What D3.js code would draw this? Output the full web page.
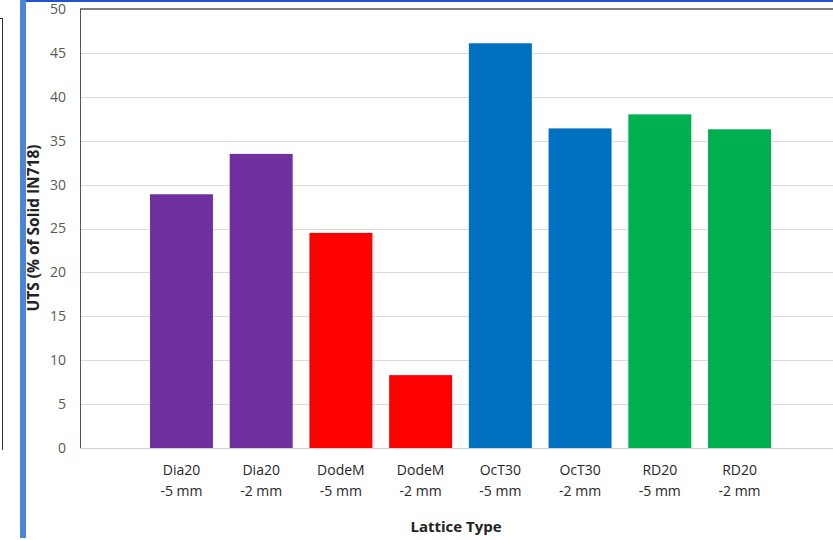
<!DOCTYPE html>
<html>
<head>
<meta charset="utf-8">
<script src="https://cdn.jsdelivr.net/npm/d3@7/dist/d3.min.js"></script>
<style>
  html, body { margin: 0; padding: 0; background: #fff; }
  svg { display: block; font-family: "Open Sans", "Liberation Sans", sans-serif; }
</style>
</head>
<body>
<svg id="chart" width="833" height="540"></svg>
<script>
// Lattice specimens: name, offset, UTS as % of solid IN718
const latticeNames = ["Dia20", "Dia20", "DodeM", "DodeM", "OcT30", "OcT30", "RD20", "RD20"];
const offsets = ["-5 mm", "-2 mm", "-5 mm", "-2 mm", "-5 mm", "-2 mm", "-5 mm", "-2 mm"];
const utsValues = [28.9, 33.5, 24.5, 8.3, 46.1, 36.4, 38.0, 36.3];
const familyColors = { Dia20: "#7030A0", DodeM: "#FF0000", OcT30: "#0070C0", RD20: "#00B050" };
const yTicks = [0, 5, 10, 15, 20, 25, 30, 35, 40, 45, 50];

const svg = d3.select("#chart");
const W = 833, H = 540;

const plot = { left: 80, top: 9, bottom: 448 };
const ids = d3.range(utsValues.length);

const x = d3.scaleBand().domain(ids).range([141.6, 779.4]).paddingInner(0.21).paddingOuter(0.105);
const y = d3.scaleLinear().domain([0, 50]).range([plot.bottom, plot.top]);

// page decoration: blue rule on the left, thin blue line on top, neighbouring frame edge
svg.append("rect").attr("x", 20).attr("y", 0).attr("width", 6).attr("height", 538).attr("fill", "#4a85d6");
svg.append("rect").attr("x", 26).attr("y", 0).attr("width", W - 26).attr("height", 2).attr("fill", "#2350d0");
svg.append("line").attr("x1", 0).attr("x2", 3).attr("y1", 18.5).attr("y2", 18.5).attr("stroke", "#333").attr("stroke-width", 1);
svg.append("line").attr("x1", 2.5).attr("x2", 2.5).attr("y1", 18).attr("y2", 450).attr("stroke", "#333").attr("stroke-width", 1);

// gridlines
svg.append("g")
  .selectAll("line")
  .data(yTicks.filter(t => t > 0 && t < 50))
  .join("line")
  .attr("x1", plot.left).attr("x2", W)
  .attr("y1", d => Math.round(y(d)) + 0.5).attr("y2", d => Math.round(y(d)) + 0.5)
  .attr("stroke", "#dcdcdc").attr("stroke-width", 1);

// baseline
svg.append("line")
  .attr("x1", plot.left).attr("x2", W)
  .attr("y1", Math.round(y(0)) + 0.5).attr("y2", Math.round(y(0)) + 0.5)
  .attr("stroke", "#d0d0d0").attr("stroke-width", 1);

// plot frame (top and left)
svg.append("line")
  .attr("x1", plot.left).attr("x2", W)
  .attr("y1", y(50)).attr("y2", y(50))
  .attr("stroke", "#555").attr("stroke-width", 1.5);
svg.append("line")
  .attr("x1", plot.left + 0.5).attr("x2", plot.left + 0.5)
  .attr("y1", y(50)).attr("y2", y(0))
  .attr("stroke", "#555").attr("stroke-width", 1);

// bars
svg.append("g")
  .selectAll("rect")
  .data(ids)
  .join("rect")
  .attr("x", i => x(i))
  .attr("width", x.bandwidth())
  .attr("y", i => y(utsValues[i]))
  .attr("height", i => y(0) - y(utsValues[i]))
  .attr("fill", i => familyColors[latticeNames[i]]);

// y axis labels
const yAxis = d3.axisLeft(y).tickValues(yTicks).tickSize(0).tickPadding(0).tickFormat(d3.format("d"));
const yg = svg.append("g").attr("transform", "translate(66,0)").call(yAxis);
yg.select(".domain").remove();
yg.selectAll("text").attr("fill", "#595959").style("font-size", "14px")
  .style("font-family", "'Open Sans', 'Liberation Sans', sans-serif");

// x category labels (two lines)
const xg = svg.append("g");
ids.forEach(i => {
  const cx = x(i) + x.bandwidth() / 2;
  const t = xg.append("text")
    .attr("text-anchor", "middle")
    .attr("fill", "#262626")
    .style("font-size", "14px");
  t.append("tspan").attr("x", cx).attr("y", 475).text(latticeNames[i]);
  t.append("tspan").attr("x", cx).attr("y", 496).text(offsets[i]);
});

// axis titles
svg.append("text")
  .attr("x", 456).attr("y", 532)
  .attr("text-anchor", "middle")
  .attr("fill", "#222")
  .style("font-size", "15px").style("font-weight", "bold")
  .text("Lattice Type");

svg.append("text")
  .attr("transform", "translate(39,228) rotate(-90)")
  .attr("text-anchor", "middle")
  .attr("fill", "#222")
  .style("font-size", "15.5px").style("font-weight", "bold")
  .text("UTS (% of Solid IN718)");
</script>
</body>
</html>
